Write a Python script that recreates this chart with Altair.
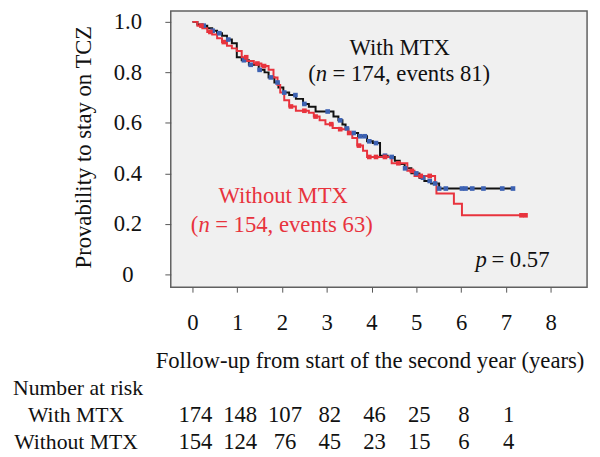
import altair as alt
import pandas as pd

# ---- Kaplan-Meier step data (years, survival) ----
with_t = [0, 0.11, 0.22, 0.33, 0.44, 0.55, 0.66, 0.77, 0.88, 0.99, 1.10, 1.26, 1.48, 1.61,
          1.70, 1.83, 1.92, 2.03, 2.16, 2.31, 2.47, 2.60, 2.75, 3.15, 3.26, 3.35, 3.42,
          3.48, 3.70, 3.90, 4.03, 4.19, 4.36, 4.52, 4.63, 4.74, 4.89, 5.07, 5.18, 5.33,
          5.51, 7.16]
with_s = [1.0, 0.99, 0.985, 0.975, 0.965, 0.955, 0.945, 0.93, 0.915, 0.86, 0.848, 0.83,
          0.81, 0.80, 0.78, 0.76, 0.74, 0.72, 0.71, 0.695, 0.675, 0.664, 0.645, 0.625,
          0.61, 0.594, 0.578, 0.56, 0.547, 0.527, 0.52, 0.47, 0.465, 0.45, 0.437, 0.42,
          0.40, 0.383, 0.37, 0.36, 0.34, 0.34]

without_t = [0, 0.11, 0.22, 0.33, 0.44, 0.55, 0.66, 0.77, 0.88, 0.99, 1.10, 1.21, 1.37,
             1.54, 1.70, 1.81, 1.90, 1.96, 2.05, 2.16, 2.31, 2.60, 2.71, 2.84, 2.97, 3.13,
             3.30, 3.48, 3.57, 3.68, 3.81, 3.90, 4.45, 4.80, 4.96, 5.42, 5.45, 5.84, 6.02,
             7.44]
without_s = [1.0, 0.985, 0.975, 0.96, 0.95, 0.935, 0.92, 0.905, 0.895, 0.885, 0.86, 0.845,
             0.835, 0.825, 0.81, 0.78, 0.75, 0.72, 0.69, 0.665, 0.648, 0.64, 0.625, 0.61,
             0.595, 0.58, 0.575, 0.56, 0.54, 0.51, 0.49, 0.465, 0.44, 0.41, 0.39, 0.36,
             0.32, 0.28, 0.234, 0.234]

# censoring times
with_cens = [0.25, 0.45, 0.6, 0.8, 1.15, 1.3, 1.5, 1.75, 1.9, 2.05, 2.3, 2.5, 3.02, 3.3,
             3.45, 3.6, 3.75, 3.85, 3.95, 4.1, 4.3, 4.45, 4.75, 5.0, 5.15, 5.3, 5.42, 5.51,
             5.66, 6.02, 6.1, 6.25, 6.5, 6.92, 7.16]
without_cens = [0.2, 0.4, 0.7, 1.2, 1.45, 1.6, 2.2, 2.5, 2.75, 3.1, 3.3, 3.5, 3.72, 3.95,
                4.1, 4.3, 4.6, 4.9, 5.1, 5.3, 7.35, 7.44]

# number at risk
risk_years = [0, 1, 2, 3, 4, 5, 6, 7]
risk_with = [174, 148, 107, 82, 46, 25, 8, 1]
risk_without = [154, 124, 76, 45, 23, 15, 6, 4]

groups = ["With MTX", "Without MTX"]


def step_at(ts, ss, t):
    val = ss[0]
    for ti, si in zip(ts, ss):
        if ti <= t + 1e-9:
            val = si
    return val


lines = pd.concat([
    pd.DataFrame({"t": with_t, "s": with_s, "g": groups[0]}),
    pd.DataFrame({"t": without_t, "s": without_s, "g": groups[1]}),
])
cens = pd.concat([
    pd.DataFrame({"t": with_cens, "s": [step_at(with_t, with_s, c) for c in with_cens], "g": groups[0]}),
    pd.DataFrame({"t": without_cens, "s": [step_at(without_t, without_s, c) for c in without_cens], "g": groups[1]}),
])
risk = pd.concat([
    pd.DataFrame({"t": risk_years, "n": risk_with, "g": groups[0]}),
    pd.DataFrame({"t": risk_years, "n": risk_without, "g": groups[1]}),
])

FONT = "Liberation Serif"
FS = 23
RED = "#e8333d"
BLUE = "#3d62b3"

xscale = alt.Scale(domain=[-0.485, 8.815], nice=False, zero=False)
yscale = alt.Scale(domain=[-0.0508, 1.043], nice=False, zero=False)

xaxis = alt.Axis(values=list(range(9)), tickSize=5, labelPadding=38, labelBaseline="alphabetic",
                 labelFont=FONT, labelFontSize=FS, labelColor="#111", domain=False, grid=False,
                 tickColor="#555", title=None)
yaxis = alt.Axis(values=[0, 0.2, 0.4, 0.6, 0.8, 1.0],
                 labelExpr="datum.value == 0 ? '0' : format(datum.value, '.1f')",
                 labelAlign="center", labelBaseline="middle", tickSize=6, labelPadding=38,
                 labelFont=FONT, labelFontSize=FS, labelColor="#111", domain=False, grid=False,
                 tickColor="#555", title=None)

line_color = alt.Color("g:N", scale=alt.Scale(domain=groups, range=["#111111", RED]), legend=None)
mark_color = alt.Color("g:N", scale=alt.Scale(domain=groups, range=[BLUE, RED]), legend=None)

km = alt.Chart(lines).mark_line(interpolate="step-after", strokeWidth=2).encode(
    x=alt.X("t:Q", scale=xscale, axis=xaxis),
    y=alt.Y("s:Q", scale=yscale, axis=yaxis),
    color=line_color,
    order=alt.Order("t:Q"),
)

marks = alt.Chart(cens).mark_point(shape="square", filled=True, size=22, opacity=1).encode(
    x=alt.X("t:Q", scale=xscale),
    y=alt.Y("s:Q", scale=yscale),
    color=mark_color,
)

one = alt.Data(values=[{}])


def txt(text, x, y, color="#111", align="center", italic=False, angle=None,
        baseline="alphabetic", size=FS):
    kw = dict(text=text, font=FONT, fontSize=size, color=color, align=align, baseline=baseline)
    if italic:
        kw["fontStyle"] = "italic"
    if angle is not None:
        kw["angle"] = angle
    return alt.Chart(one).mark_text(**kw).encode(x=alt.value(x), y=alt.value(y))


texts = [
    txt("With MTX", 232, 45),
    txt("(", 147, 71, align="right"),
    txt("n", 147, 71, align="left", italic=True),
    txt("= 174, events 81)", 164, 71, align="left"),
    txt("Without MTX", 114, 195, color=RED),
    txt("(", 28, 224, color=RED, align="right"),
    txt("n", 28, 224, color=RED, align="left", italic=True),
    txt("= 154, events 63)", 45, 224, color=RED, align="left"),
    txt("p", 309, 259, align="left", italic=True),
    txt("= 0.57", 325, 259, align="left"),
    txt("Provability  to stay on TCZ", -88, 138, angle=270, baseline="middle"),
    txt("Follow-up from start of the second year (years)", 202, 362),
    txt("Number at risk", -94, 389, size=22),
    txt("With MTX", -96, 417, size=22),
    txt("Without MTX", -96, 444, size=22),
]

risk_with_layer = alt.Chart(risk[risk.g == groups[0]]).mark_text(
    font=FONT, fontSize=FS, color="#111", baseline="alphabetic", dx=3
).encode(x=alt.X("t:Q", scale=xscale), y=alt.value(417), text="n:Q")
risk_without_layer = alt.Chart(risk[risk.g == groups[1]]).mark_text(
    font=FONT, fontSize=FS, color="#111", baseline="alphabetic", dx=3
).encode(x=alt.X("t:Q", scale=xscale), y=alt.value(444), text="n:Q")

chart = alt.layer(km, marks, *texts, risk_with_layer, risk_without_layer).resolve_scale(
    color="independent"
).properties(
    width=422, height=280,
    padding={"left": 165, "top": 0, "right": 5, "bottom": 165},
    autosize=alt.AutoSizeParams(type="none"),
    background="white",
).configure_view(fill="#f0f0f0", stroke="#606060", strokeWidth=1.5)

chart.save("out.html", embed_options={"renderer": "svg", "actions": False})
